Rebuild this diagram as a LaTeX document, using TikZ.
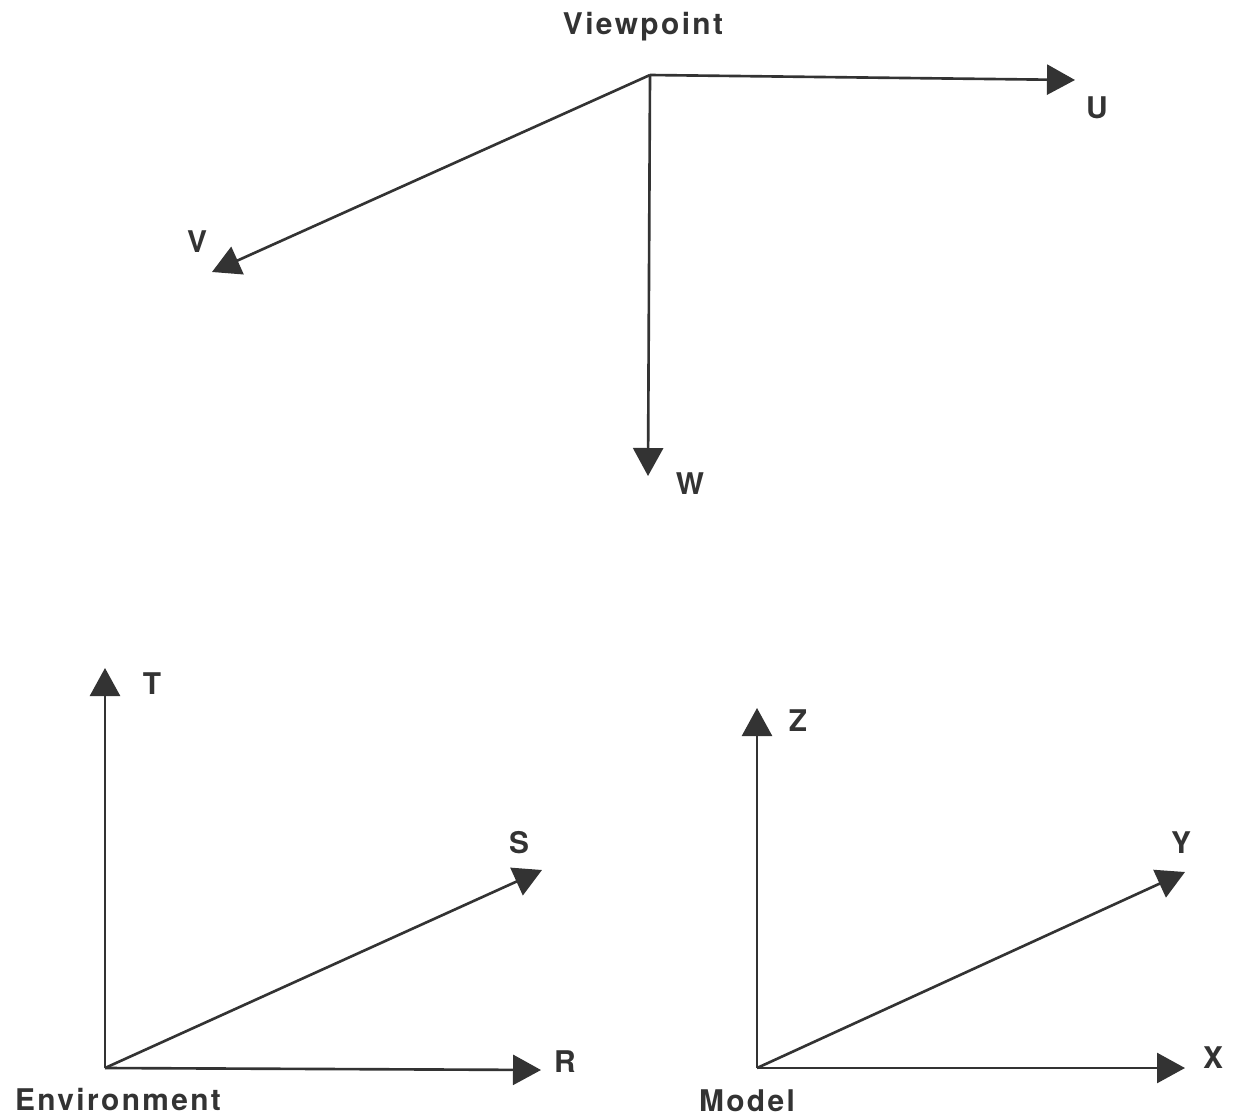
\documentclass[tikz,border=0pt]{standalone}
\usepackage{fontspec}
\setmainfont{TeX Gyre Heros}[LetterSpace=8]
\usetikzlibrary{arrows.meta}
\begin{document}
\begin{tikzpicture}[axis/.style={line width=1.5pt, draw=black!80, -{Triangle[length=0.56cm,width=0.6cm]}},
  lbl/.style={text=black!80, font=\fontsize{17}{20}\selectfont\bfseries}]
\useasboundingbox (0,0) rectangle (24.68,-22.4);
% viewpoint frame
\coordinate (vp) at (13.0,-1.5);
\coordinate (u) at (21.5,-1.6);
\coordinate (v) at (4.24,-5.44);
\coordinate (w) at (12.96,-9.52);
\draw[axis] (vp) -- (u);
\draw[axis] (vp) -- (v);
\draw[axis] (vp) -- (w);
\node[lbl] (vplbl) at (12.86,-0.54) {Viewpoint};
\node[lbl] (ulbl) at (21.94,-2.16) {U};
\node[lbl] (vlbl) at (3.94,-4.84) {V};
\node[lbl] (wlbl) at (13.8,-9.68) {W};
% environment frame
\coordinate (env) at (2.1,-21.36);
\coordinate (t) at (2.1,-13.36);
\coordinate (s) at (10.84,-17.4);
\coordinate (r) at (10.82,-21.4);
\draw[axis] (env) -- (t);
\draw[axis] (env) -- (s);
\draw[axis] (env) -- (r);
\node[lbl] (tlbl) at (3.04,-13.68) {T};
\node[lbl] (slbl) at (10.38,-16.86) {S};
\node[lbl] (rlbl) at (11.3,-21.24) {R};
\node[lbl] (envlbl) at (2.36,-21.98) {Environment};
% model frame
\coordinate (mod) at (15.14,-21.36);
\coordinate (z) at (15.14,-14.16);
\coordinate (y) at (23.7,-17.44);
\coordinate (x) at (23.7,-21.36);
\draw[axis] (mod) -- (z);
\draw[axis] (mod) -- (y);
\draw[axis] (mod) -- (x);
\node[lbl] (zlbl) at (15.96,-14.42) {Z};
\node[lbl] (ylbl) at (23.62,-16.86) {Y};
\node[lbl] (xlbl) at (24.26,-21.16) {X};
\node[lbl] (modlbl) at (14.94,-22.02) {Model};
\end{tikzpicture}
\end{document}
